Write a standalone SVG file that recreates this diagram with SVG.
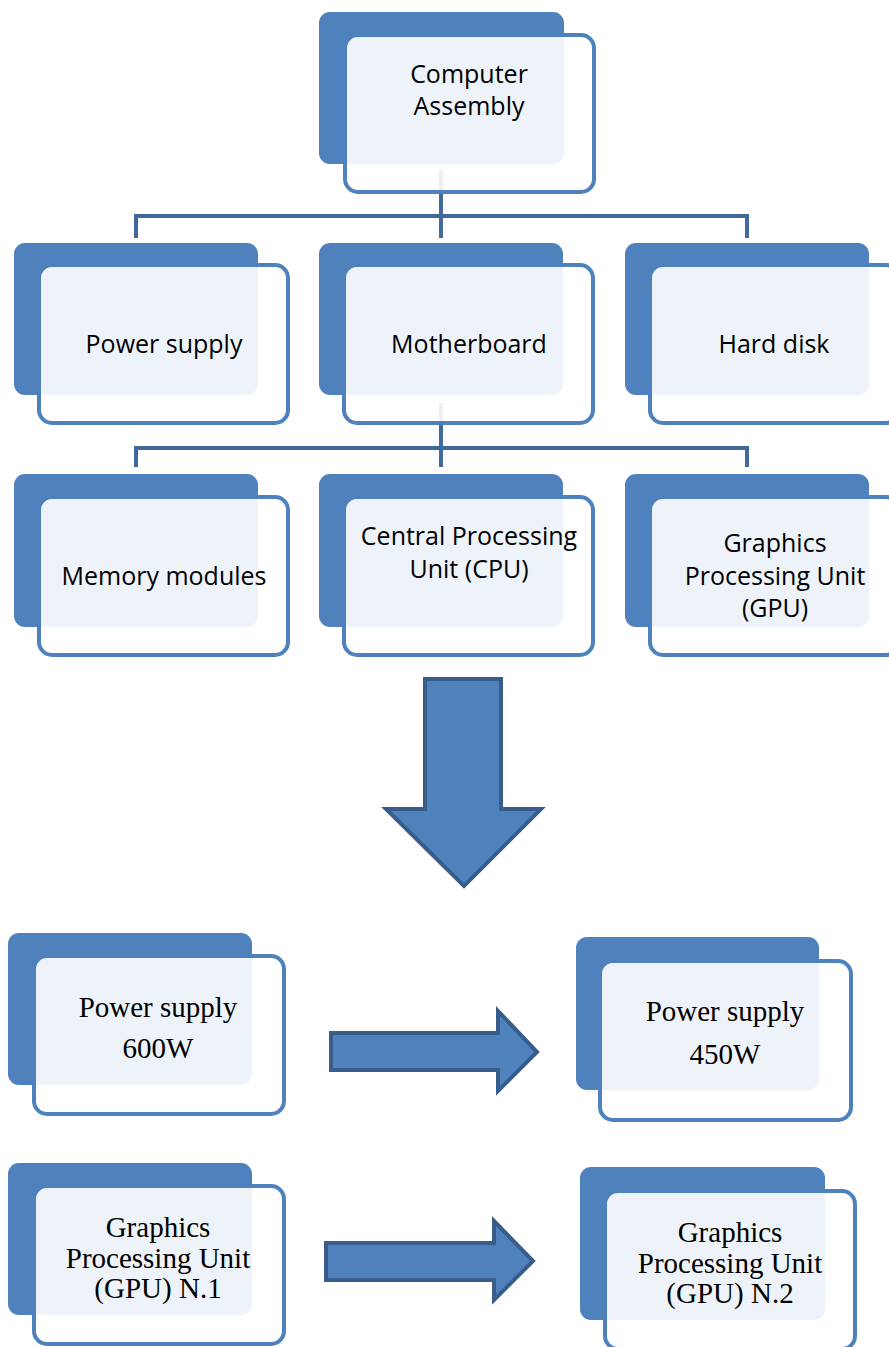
<svg xmlns="http://www.w3.org/2000/svg" width="889" height="1347" viewBox="0 0 889 1347">
  <style>
    .back { fill: #4F81BD; }
    .front { fill: #FFFFFF; fill-opacity: 0.9; stroke: #4F81BD; stroke-width: 4; }
    .link { stroke: #41699B; stroke-width: 4; fill: none; }
    .arrow { fill: #4F81BD; stroke: #385D8A; stroke-width: 4; stroke-linejoin: miter; }
    .sans { font-family: "Open Sans", "Noto Sans", sans-serif; font-size: 25px; fill: #000; text-anchor: middle; }
    .serif { font-family: "Liberation Serif", "Times New Roman", serif; font-size: 29px; fill: #000; text-anchor: middle; }
  </style>
  <rect width="889" height="1347" fill="#FFFFFF"/>

  <!-- hierarchy connectors (drawn under the boxes) -->
  <g id="connectors">
    <line class="link" x1="441" y1="170" x2="441" y2="216"/>
    <line class="link" x1="134" y1="216" x2="749" y2="216"/>
    <line class="link" x1="136" y1="216" x2="136" y2="238"/>
    <line class="link" x1="441" y1="216" x2="441" y2="238"/>
    <line class="link" x1="747" y1="216" x2="747" y2="238"/>
    <line class="link" x1="441" y1="403" x2="441" y2="448"/>
    <line class="link" x1="134" y1="448" x2="749" y2="448"/>
    <line class="link" x1="136" y1="448" x2="136" y2="467"/>
    <line class="link" x1="441" y1="448" x2="441" y2="467"/>
    <line class="link" x1="747" y1="448" x2="747" y2="467"/>
  </g>

  <!-- root -->
  <g id="node-computer-assembly">
    <rect class="back" x="319" y="12" width="245" height="152" rx="11"/>
    <rect class="front" x="345" y="35" width="249" height="157" rx="13"/>
    <text class="sans" x="469" y="83">Computer</text>
    <text class="sans" x="469" y="115">Assembly</text>
  </g>

  <!-- second level -->
  <g id="node-power-supply">
    <rect class="back" x="14" y="243" width="244" height="152" rx="11"/>
    <rect class="front" x="39" y="265" width="249" height="158" rx="13"/>
    <text class="sans" x="164" y="353">Power supply</text>
  </g>
  <g id="node-motherboard">
    <rect class="back" x="319" y="243" width="244" height="152" rx="11"/>
    <rect class="front" x="344" y="265" width="249" height="158" rx="13"/>
    <text class="sans" x="469" y="353">Motherboard</text>
  </g>
  <g id="node-hard-disk">
    <rect class="back" x="625" y="243" width="244" height="152" rx="11"/>
    <rect class="front" x="650" y="265" width="249" height="158" rx="13"/>
    <text class="sans" x="774" y="353">Hard disk</text>
  </g>

  <!-- third level -->
  <g id="node-memory-modules">
    <rect class="back" x="14" y="474" width="244" height="153" rx="11"/>
    <rect class="front" x="39" y="497" width="249" height="158" rx="13"/>
    <text class="sans" x="164" y="585">Memory modules</text>
  </g>
  <g id="node-cpu">
    <rect class="back" x="319" y="474" width="244" height="153" rx="11"/>
    <rect class="front" x="344" y="497" width="249" height="158" rx="13"/>
    <text class="sans" x="469" y="545">Central Processing</text>
    <text class="sans" x="469" y="578">Unit (CPU)</text>
  </g>
  <g id="node-gpu">
    <rect class="back" x="625" y="474" width="244" height="153" rx="11"/>
    <rect class="front" x="650" y="497" width="249" height="158" rx="13"/>
    <text class="sans" x="775" y="552">Graphics</text>
    <text class="sans" x="775" y="585">Processing Unit</text>
    <text class="sans" x="775" y="617">(GPU)</text>
  </g>

  <!-- transition arrows -->
  <g id="arrows">
    <polygon class="arrow" points="425,679 501,679 501,809 541,809 464,886 386,809 425,809"/>
    <polygon class="arrow" points="331,1033 498,1033 498,1011 537,1052 498,1091 498,1070 331,1070"/>
    <polygon class="arrow" points="326,1243 494,1243 494,1221 533,1261 494,1300 494,1280 326,1280"/>
  </g>

  <!-- replacements -->
  <g id="node-psu-600w">
    <rect class="back" x="8" y="933" width="244" height="152" rx="11"/>
    <rect class="front" x="34" y="956" width="250" height="158" rx="13"/>
    <text class="serif" x="158" y="1017">Power supply</text>
    <text class="serif" x="158" y="1058">600W</text>
  </g>
  <g id="node-psu-450w">
    <rect class="back" x="576" y="937" width="243" height="153" rx="11"/>
    <rect class="front" x="600" y="961" width="251" height="159" rx="13"/>
    <text class="serif" x="725" y="1021">Power supply</text>
    <text class="serif" x="725" y="1064">450W</text>
  </g>
  <g id="node-gpu-1">
    <rect class="back" x="8" y="1163" width="244" height="152" rx="11"/>
    <rect class="front" x="34" y="1186" width="250" height="158" rx="13"/>
    <text class="serif" x="158" y="1237">Graphics</text>
    <text class="serif" x="158" y="1268">Processing Unit</text>
    <text class="serif" x="158" y="1298">(GPU) N.1</text>
  </g>
  <g id="node-gpu-2">
    <rect class="back" x="580" y="1167" width="245" height="153" rx="11"/>
    <rect class="front" x="605" y="1191" width="250" height="158" rx="13"/>
    <text class="serif" x="730" y="1242">Graphics</text>
    <text class="serif" x="730" y="1273">Processing Unit</text>
    <text class="serif" x="730" y="1303">(GPU) N.2</text>
  </g>
</svg>
